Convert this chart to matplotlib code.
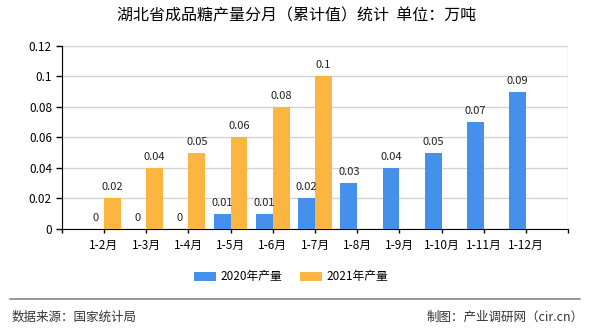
import matplotlib
matplotlib.use('Agg')
import matplotlib.pyplot as plt
import numpy as np

plt.rcParams['font.family'] = ['Noto Sans CJK SC', 'DejaVu Sans']

# data
months = ['1-2月', '1-3月', '1-4月', '1-5月', '1-6月', '1-7月',
          '1-8月', '1-9月', '1-10月', '1-11月', '1-12月']
prod_2020 = [0, 0, 0, 0.01, 0.01, 0.02, 0.03, 0.04, 0.05, 0.07, 0.09]
prod_2021 = [0.02, 0.04, 0.05, 0.06, 0.08, 0.1]
series_names = ['2020年产量', '2021年产量']
yticks = [0, 0.02, 0.04, 0.06, 0.08, 0.1, 0.12]
ytick_labels = ['0', '0.02', '0.04', '0.06', '0.08', '0.1', '0.12']

blue = '#4590ea'
orange = '#fbb540'

fig = plt.figure(figsize=(5.9, 3.3), dpi=100)
ax = fig.add_axes([0.1046, 0.306, 0.8586, 0.555])

x = np.arange(1, len(months) + 1)
w = 0.4
b1 = ax.bar(x - w / 2, prod_2020, w, color=blue, label=series_names[0], zorder=3)
x2 = x[:len(prod_2021)]
b2 = ax.bar(x2 + w / 2, prod_2021, w, color=orange, label=series_names[1], zorder=3)

for xi, v in zip(x, prod_2020):
    ax.text(xi - w / 2, v + 0.004, f'{v:g}', ha='center', va='bottom', fontsize=8, color='#222222')
for xi, v in zip(x2, prod_2021):
    ax.text(xi + w / 2, v + 0.004, f'{v:g}', ha='center', va='bottom', fontsize=8, color='#222222')

ax.set_xlim(0, 12)
ax.set_ylim(0, 0.12)
ax.set_yticks(yticks)
ax.set_yticklabels(ytick_labels, fontsize=8.5)
ax.set_xticks(x)
ax.set_xticklabels(months, fontsize=8.5)
ax.set_xticks(np.arange(0, 13), minor=True)
ax.tick_params(axis='x', which='both', length=3, width=1, color='black', pad=4)
ax.tick_params(axis='y', length=4, width=1, pad=3)

ax.grid(True, which='minor', axis='x', color='#d3d3d3', linewidth=1, zorder=0)
ax.grid(True, which='major', axis='y', color='#d3d3d3', linewidth=1, zorder=0)
for s in ['top', 'right']:
    ax.spines[s].set_visible(False)
ax.spines['left'].set_color('black')
ax.spines['bottom'].set_color('black')

fig.text(0.502, 0.952, '湖北省成品糖产量分月（累计值）统计  单位：万吨', ha='center', va='center', fontsize=11.5)

fig.legend(handles=[b1, b2], labels=series_names, loc='center', bbox_to_anchor=(0.493, 0.161),
           ncol=2, frameon=False, fontsize=8.5, handlelength=1.9, handleheight=0.8,
           columnspacing=1.5, handletextpad=0.35)

fig.add_artist(plt.Line2D([0.017, 0.983], [0.095, 0.095], color='#888888', linewidth=1.2))
fig.text(0.02, 0.04, '数据来源：国家统计局', ha='left', va='center', fontsize=9, color='#333333')
fig.text(0.99, 0.04, '制图：产业调研网（cir.cn）', ha='right', va='center', fontsize=9, color='#333333')

fig.savefig('out.png', dpi=100)
